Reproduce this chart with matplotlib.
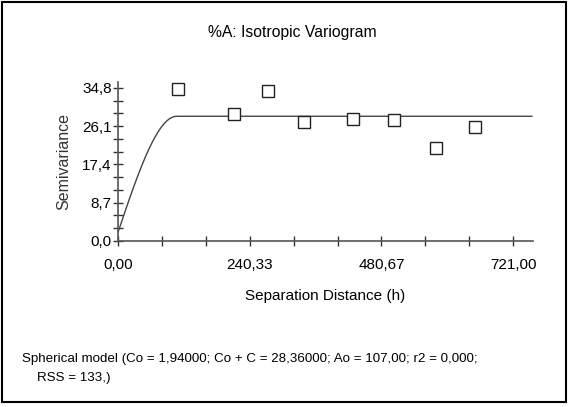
import numpy as np
import matplotlib
matplotlib.use("Agg")
import matplotlib.pyplot as plt
from matplotlib.patches import Rectangle

plt.rcParams['font.family'] = ['Liberation Sans', 'DejaVu Sans']
fs = 11

# Experimental semivariance (lag distance, semivariance)
lag_h = [109, 211, 273, 339, 429, 503, 581, 652]
semivar = [34.5, 28.8, 34.1, 27.0, 27.7, 27.4, 21.1, 26.0]

# Spherical model parameters
nugget = 1.94
sill = 28.36
range_a = 107.0
model_end = 755

x_major = [0, 240.33, 480.67, 721.0]
y_major = [0, 8.7, 17.4, 26.1, 34.8]

# model curve from the fitted parameters
h = np.linspace(0, model_end, 400)
hr = np.minimum(h / range_a, 1.0)
gamma = nugget + (sill - nugget) * (1.5 * hr - 0.5 * hr ** 3)

fig = plt.figure(figsize=(5.68, 4.07), dpi=100)
fig.patches.append(Rectangle((0.004, 0.012), 0.992, 0.984, transform=fig.transFigure,
                             fill=False, edgecolor='black', linewidth=1.5))

ax = fig.add_axes([0.2077, 0.408, 0.7306, 0.391])
ax.plot(h, gamma, color='#444444', linewidth=1.0)
ax.plot(lag_h, semivar, linestyle='none', marker='s', markersize=8.5,
        markerfacecolor='white', markeredgecolor='#222222', markeredgewidth=1.0)

ax.set_xlim(0, 757)
ax.set_ylim(0, 36.2)
ax.set_xticks(x_major)
ax.set_xticklabels([f"{v:.2f}".replace('.', ',') for v in x_major], fontsize=fs)
ax.set_xticks(np.arange(10) * 721 / 9, minor=True)
ax.set_yticks(y_major)
ax.set_yticklabels([f"{v:.1f}".replace('.', ',') for v in y_major], fontsize=fs)
ax.set_yticks(np.arange(13) * 2.9, minor=True)

for side in ['top', 'right']:
    ax.spines[side].set_visible(False)
for side in ['left', 'bottom']:
    ax.spines[side].set_color('#555555')
    ax.spines[side].set_linewidth(1.2)
ax.tick_params(which='both', direction='inout', length=7, width=1, color='#333333')
ax.tick_params(axis='x', pad=9)
ax.tick_params(axis='y', pad=1)

ax.set_ylabel("Semivariance", fontsize=11.5, color='#333333', labelpad=8)
ax.set_xlabel("Separation Distance (h)", fontsize=fs, labelpad=12)

fig.text(0.514, 0.919, "%A: Isotropic Variogram", ha='center', va='center', fontsize=11.3)
fig.text(0.039, 0.095, "Spherical model (Co = 1,94000; Co + C = 28,36000; Ao = 107,00; r2 = 0,000;\n"
         "    RSS = 133,)", ha='left', va='center', fontsize=9.6, linespacing=1.75)

fig.savefig("out.png", dpi=100)
